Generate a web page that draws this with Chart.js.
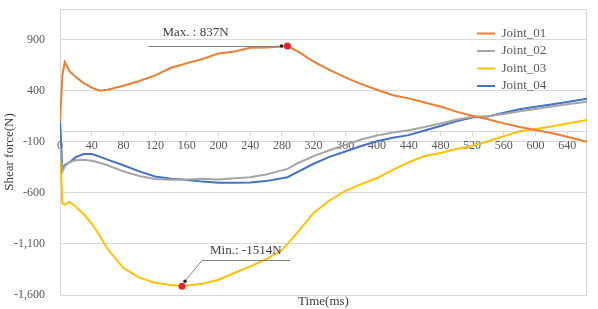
<!DOCTYPE html>
<html>
<head>
<meta charset="utf-8">
<script src="https://cdn.jsdelivr.net/npm/chart.js@4.4.1/dist/chart.umd.min.js"></script>
<style>
  html, body { margin: 0; padding: 0; background: #fff; }
  #wrap { width: 598px; height: 309px; }
</style>
</head>
<body>
<div id="wrap"><canvas id="myChart"></canvas></div>
<script>
/* values */
const time    = [0, 3, 6, 12, 20, 30, 40, 50, 60, 80, 100, 120, 140, 154, 160, 180, 200, 220, 240, 260, 280, 287, 300, 320, 340, 360, 380, 400, 420, 440, 460, 480, 500, 520, 540, 560, 580, 600, 620, 640, 665];
const joint01 = [100, 550, 680, 590, 535, 475, 430, 400, 410, 449, 495, 550, 625, 655, 670, 710, 765, 785, 820, 822, 832, 837, 785, 684, 605, 530, 465, 410, 355, 325, 285, 245, 195, 155, 120, 80, 45, 15, -15, -50, -100];
const joint02 = [-150, -390, -340, -300, -280, -275, -285, -305, -330, -390, -435, -465, -472, -472, -470, -462, -470, -458, -448, -420, -380, -365, -310, -240, -183, -130, -78, -38, -10, 14, 45, 80, 115, 145, 150, 172, 198, 222, 245, 268, 292];
const joint03 = [-150, -700, -715, -690, -735, -810, -900, -1020, -1150, -1336, -1430, -1480, -1502, -1514, -1508, -1490, -1450, -1385, -1320, -1250, -1160, -1100, -985, -797, -675, -580, -515, -455, -375, -300, -240, -210, -170, -140, -95, -45, 3, 25, 50, 80, 114];
const joint04 = [116, -375, -330, -300, -250, -220, -220, -245, -275, -330, -390, -440, -462, -468, -475, -490, -500, -502, -498, -485, -458, -447, -395, -315, -248, -195, -142, -95, -60, -35, 10, 55, 100, 138, 148, 185, 218, 242, 265, 290, 322];

const seriesNames = ['Joint_01', 'Joint_02', 'Joint_03', 'Joint_04'];
const xTicks = [0, 40, 80, 120, 160, 200, 240, 280, 320, 360, 400, 440, 480, 520, 560, 600, 640];
const yTicks = [-1600, -1100, -600, -100, 400, 900];

const serif = '"Liberation Serif", "Times New Roman", serif';
const maxIdx = joint01.indexOf(Math.max(...joint01));
const minIdx = joint03.indexOf(Math.min(...joint03));

function pts(values) {
  return time.map((t, i) => ({ x: t, y: values[i] }));
}

/* move the legend to the upper right of the plot */
const placeLegend = {
  id: 'placeLegend',
  afterLayout(chart) {
    const lg = chart.legend, area = chart.chartArea;
    lg.left = area.right - 114.5;
    lg.right = lg.left + lg.width;
    lg.top = area.top + 13.5;
    lg.bottom = lg.top + lg.height;
  }
};

/* plot frame + max / min callouts */
const extras = {
  id: 'extras',
  beforeDatasetsDraw(chart) {
    const c = chart.ctx, a = chart.chartArea;
    c.save();
    c.strokeStyle = '#d9d9d9';
    c.lineWidth = 1;
    c.strokeRect(a.left + 0.5, a.top + 0.5, a.right - a.left - 1, a.bottom - a.top);
    c.restore();
  },
  afterDatasetsDraw(chart) {
    const c = chart.ctx;
    const xs = chart.scales.x, ys = chart.scales.y;
    c.save();
    c.font = '13px ' + serif;
    c.textBaseline = 'middle';
    c.lineWidth = 1;

    // Max
    const mx = xs.getPixelForValue(time[maxIdx]), my = Math.round(ys.getPixelForValue(joint01[maxIdx]));
    c.strokeStyle = '#808080';
    c.beginPath();
    c.moveTo(mx - 139, my + 0.5);
    c.lineTo(mx - 6, my + 0.5);
    c.stroke();
    c.fillStyle = '#262626';
    c.beginPath();
    c.arc(mx - 6, my, 1.8, 0, Math.PI * 2);
    c.fill();
    c.fillStyle = '#404040';
    c.fillText('Max. : ' + joint01[maxIdx] + 'N', mx - 125, my - 13);

    // Min
    const nx = xs.getPixelForValue(time[minIdx]), ny = ys.getPixelForValue(joint03[minIdx]);
    c.strokeStyle = '#808080';
    c.beginPath();
    c.moveTo(nx + 2, ny - 4);
    c.lineTo(nx + 20, Math.round(ny - 26) + 0.5);
    c.lineTo(nx + 108, Math.round(ny - 26) + 0.5);
    c.stroke();
    c.fillStyle = '#262626';
    c.beginPath();
    c.arc(nx + 3, ny - 5, 1.8, 0, Math.PI * 2);
    c.fill();
    c.fillStyle = '#404040';
    c.fillText('Min.: ' + joint03[minIdx] + 'N', nx + 28, ny - 36);
    c.restore();
  }
};

let ctx = document.getElementById('myChart').getContext('2d');
let myChart = new Chart(ctx, {
  type: 'line',
  data: {
    datasets: [
      {
        label: seriesNames[0],
        data: pts(joint01),
        borderColor: '#ed7d31',
        backgroundColor: '#ed7d31',
        pointRadius: c => c.dataIndex === maxIdx ? 3.5 : 0,
        pointBackgroundColor: '#e0262a',
        pointBorderWidth: 0,
      },
      {
        label: seriesNames[1],
        data: pts(joint02),
        borderColor: '#a5a5a5',
        backgroundColor: '#a5a5a5',
        pointRadius: 0,
      },
      {
        label: seriesNames[2],
        data: pts(joint03),
        borderColor: '#ffc000',
        backgroundColor: '#ffc000',
        pointRadius: c => c.dataIndex === minIdx ? 3.5 : 0,
        pointBackgroundColor: '#e0262a',
        pointBorderWidth: 0,
      },
      {
        label: seriesNames[3],
        data: pts(joint04),
        borderColor: '#4472c4',
        backgroundColor: '#4472c4',
        pointRadius: 0,
      },
    ]
  },
  options: {
    responsive: true,
    maintainAspectRatio: false,
    animation: false,
    elements: {
      line: { borderWidth: 2, tension: 0, fill: false },
      point: { hoverRadius: 0 }
    },
    layout: { padding: { top: 9, right: 11, left: 0, bottom: 0 } },
    scales: {
      x: {
        type: 'linear',
        min: 0,
        max: 665,
        position: { y: 0 },
        afterBuildTicks: s => { s.ticks = xTicks.map(v => ({ value: v })); },
        grid: { drawOnChartArea: false, drawTicks: true, tickLength: 4, color: '#d9d9d9' },
        border: { color: '#d9d9d9' },
        ticks: { padding: 3, color: '#595959', autoSkip: false, maxRotation: 0, font: { family: serif, size: 12 } },
      },
      x2: {
        type: 'linear',
        position: 'bottom',
        display: true,
        grid: { display: false, drawTicks: false, tickLength: 0 },
        border: { display: false },
        ticks: { display: false, padding: 0 },
        title: {
          display: true,
          text: 'Time(ms)',
          color: '#404040',
          padding: { top: 0, bottom: 0 },
          font: { family: serif, size: 13, lineHeight: '14px' },
        },
      },
      y: {
        min: -1600,
        max: 1200,
        afterBuildTicks: s => { s.ticks = yTicks.map(v => ({ value: v })); },
        // keep the wide label gap from eating vertical space
        afterFit: s => { s.width = 60; s.paddingTop = 0; s.paddingBottom = 0; },
        grid: { color: '#d9d9d9', drawTicks: false },
        border: { display: true, color: '#d9d9d9' },
        ticks: { padding: 15, color: '#595959', font: { family: serif, size: 12 } },
        title: {
          display: true,
          text: 'Shear force(N)',
          color: '#404040',
          padding: { top: 2, bottom: 0 },
          font: { family: serif, size: 13 },
        },
      }
    },
    plugins: {
      tooltip: { enabled: false },
      legend: {
        display: true,
        position: 'chartArea',
        align: 'start',
        labels: {
          usePointStyle: true,
          pointStyle: 'line',
          pointStyleWidth: 18,
          padding: 4.5,
          color: '#595959',
          font: { family: serif, size: 13 },
          generateLabels: chart => Chart.defaults.plugins.legend.labels.generateLabels(chart).map(item =>
            Object.assign(item, { lineWidth: 2, strokeStyle: chart.data.datasets[item.datasetIndex].borderColor })),
        },
      },
    },
  },
  plugins: [placeLegend, extras]
});
</script>
</body>
</html>
